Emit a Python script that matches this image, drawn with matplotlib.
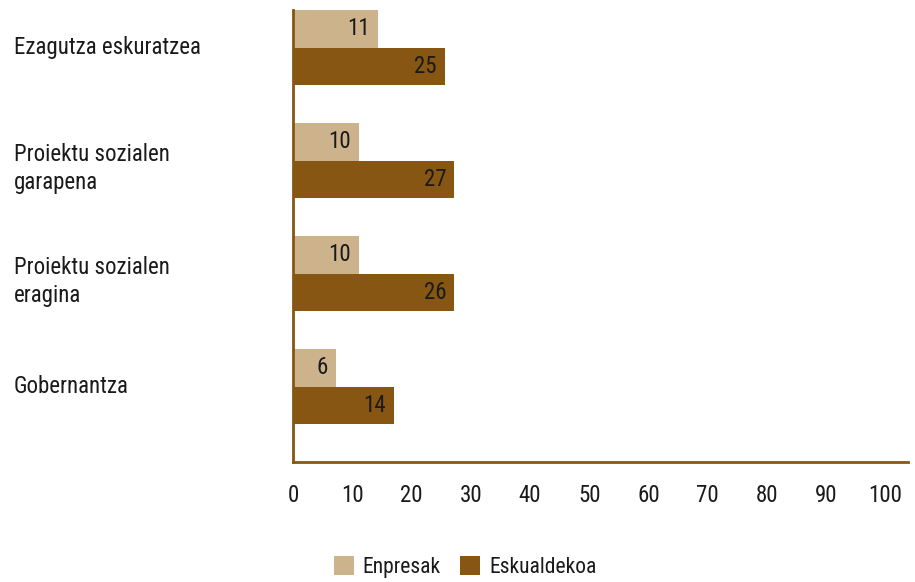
import matplotlib
matplotlib.use("Agg")
import matplotlib.pyplot as plt
import matplotlib.transforms as mtransforms
from matplotlib.patches import Patch
from matplotlib import font_manager

# ---- data ----
categories = ["Ezagutza eskuratzea", "Proiektu sozialen\ngarapena",
              "Proiektu sozialen\neragina", "Gobernantza"]
series_names = ["Enpresak", "Eskualdekoa"]
# bar lengths as drawn in the reference
enpresak_bars = [14.4, 11.1, 11.1, 7.3]
eskualdekoa_bars = [25.6, 27.2, 27.2, 17.0]
# value labels as printed in the reference
enpresak_labels = ["11", "10", "10", "6"]
eskualdekoa_labels = ["25", "27", "26", "14"]
x_ticks = [0, 10, 20, 30, 40, 50, 60, 70, 80, 90, 100]

colors = ["#CDB38C", "#875613"]
text_color = "#1a1a1a"

names = {f.name for f in font_manager.fontManager.ttflist}
family = None
for cand in ["Roboto Condensed", "Liberation Sans Narrow", "DejaVu Sans Condensed", "Roboto"]:
    if cand in names:
        family = cand
        break
if family is None:
    family = "DejaVu Sans"
plt.rcParams["font.family"] = [family, "DejaVu Sans"]
FS = 16.5
LFS = 15.5

W, H = 915, 582
fig = plt.figure(figsize=(W / 100, H / 100), dpi=100)
ax = fig.add_axes([293 / W, 1 - 462 / H, (908 - 293) / W, (462 - 10) / H])

bh = 0.334
ys = list(range(len(categories)))
y1 = [y + bh / 2 for y in ys]
y2 = [y + 1.5 * bh for y in ys]
b1 = ax.barh(y1, enpresak_bars, height=bh, color=colors[0], label=series_names[0])
b2 = ax.barh(y2, eskualdekoa_bars, height=bh, color=colors[1], label=series_names[1])

for bars, labels in ((b1, enpresak_labels), (b2, eskualdekoa_labels)):
    for rect, lab in zip(bars, labels):
        ax.annotate(lab, xy=(rect.get_width(), rect.get_y() + rect.get_height() / 2),
                    xytext=(-8, 0), textcoords="offset pixels",
                    ha="right", va="center", fontsize=FS, color=text_color)

ax.set_xlim(0, (908 - 293) / 5.925)
ax.set_ylim(len(categories), 0)
ax.set_xticks(x_ticks)
ax.set_xticklabels([str(t) for t in x_ticks], fontsize=FS, color=text_color)
ax.set_yticks([])
ax.tick_params(axis="x", length=0, pad=16)
for s in ("top", "right"):
    ax.spines[s].set_visible(False)
for s in ("left", "bottom"):
    ax.spines[s].set_color(colors[1])
    ax.spines[s].set_linewidth(2)

blend = mtransforms.blended_transform_factory(fig.transFigure, ax.transData)
for y, cat in zip(ys, categories):
    lines = cat.split("\n")
    yc = y + bh
    for j, line in enumerate(lines):
        off = 6 if len(lines) > 1 else 0
        ax.annotate(line, xy=(14 / W, yc), xycoords=blend,
                    xytext=(0, off - 28 * j), textcoords="offset pixels",
                    ha="left", va="center", fontsize=FS, color=text_color,
                    annotation_clip=False)

handles = [Patch(facecolor=c, label=n) for c, n in zip(colors, series_names)]
fig.legend(handles=handles, loc="center", bbox_to_anchor=(465 / W, 1 - 567 / H),
           ncol=2, frameon=False, fontsize=LFS, handlelength=0.93, handleheight=0.93,
           handletextpad=0.42, columnspacing=0.88, labelcolor=text_color)

fig.savefig("out.png", dpi=100)
